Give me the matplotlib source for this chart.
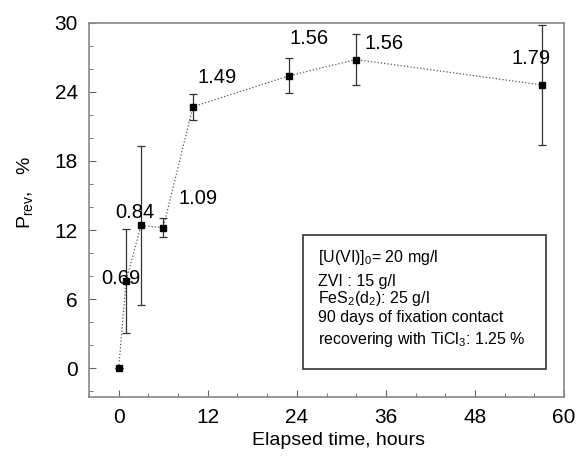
import matplotlib.pyplot as plt
from matplotlib.patches import Rectangle
from matplotlib.ticker import MultipleLocator

plt.rcParams['font.family'] = ['Liberation Sans', 'DejaVu Sans']
plt.rcParams['mathtext.fontset'] = 'custom'
plt.rcParams['mathtext.rm'] = 'Liberation Sans'
plt.rcParams['mathtext.it'] = 'Liberation Sans:italic'

# data
hours = [0, 1, 3, 6, 10, 23, 32, 57]
p_rev = [0, 7.6, 12.4, 12.2, 22.7, 25.4, 26.8, 24.6]
err = [0, 4.5, 6.9, 0.8, 1.15, 1.5, 2.2, 5.2]

# ratio labels and where they sit (data coords)
ratio_text = ['0.69', '0.84', '1.09', '1.49', '1.56', '1.56', '1.79']
ratio_x = [0.35, 2.2, 10.7, 13.2, 25.6, 35.7, 55.5]
ratio_y = [7.8, 13.5, 14.7, 25.2, 28.6, 28.2, 26.9]

box_lines = [
    r'[U(VI)]$_0$= 20 mg/l',
    'ZVI : 15 g/l',
    r'FeS$_2$(d$_2$): 25 g/l',
    '90 days of fixation contact',
    r'recovering with TiCl$_3$: 1.25 %',
]

W, H = 577, 470
fig = plt.figure(figsize=(W / 100, H / 100), dpi=100)
ax = fig.add_axes([89 / W, 1 - 397 / H, (564 - 89) / W, (397 - 22.7) / H])

ax.plot(hours, p_rev, ls=':', color='#555555', lw=0.9, zorder=2)
ax.errorbar(hours, p_rev, yerr=err, fmt='s', ms=5, mfc='black', mec='black',
            ecolor='#333333', elinewidth=0.9, capsize=3, capthick=0.9, zorder=3)

for t, x, y in zip(ratio_text, ratio_x, ratio_y):
    ax.text(x, y, t, fontsize=14.5, ha='center', va='center', zorder=4)

ax.set_xlim(-4, 60)
ax.set_ylim(-2.5, 30)
ax.xaxis.set_major_locator(MultipleLocator(12))
ax.xaxis.set_minor_locator(MultipleLocator(4))
ax.yaxis.set_major_locator(MultipleLocator(6))
ax.yaxis.set_minor_locator(MultipleLocator(2))
ax.tick_params(which='both', direction='in', color='#666666', labelsize=15)
ax.tick_params(which='major', length=5, pad=8)
ax.tick_params(which='minor', length=3)
for s in ax.spines.values():
    s.set_color('#888888')
    s.set_linewidth(1.2)

ax.set_xlabel('Elapsed time, hours', fontsize=14)
ax.set_ylabel(r'P$_\mathrm{rev}$,   %', fontsize=14)
ax.xaxis.set_label_coords(0.525, -0.094)
ax.yaxis.set_label_coords(-0.114, 0.545)

# legend-like info box, in pixel positions converted to axes fraction
def ax_xy(px, py):
    return (px - 89) / (564 - 89), (397 - py) / (397 - 22.7)

x0, y0 = ax_xy(303, 369)
x1, y1 = ax_xy(546, 235)
ax.add_patch(Rectangle((x0, y0), x1 - x0, y1 - y0, transform=ax.transAxes,
                       fill=False, ec='#333333', lw=1.2, zorder=5))
baselines = [262, 286, 303, 322, 344]
for line, by in zip(box_lines, baselines):
    tx, ty = ax_xy(318, by)
    ax.text(tx, ty, line, transform=ax.transAxes, fontsize=11.5,
            va='baseline', ha='left', zorder=6)

fig.savefig('out.png', dpi=100)
